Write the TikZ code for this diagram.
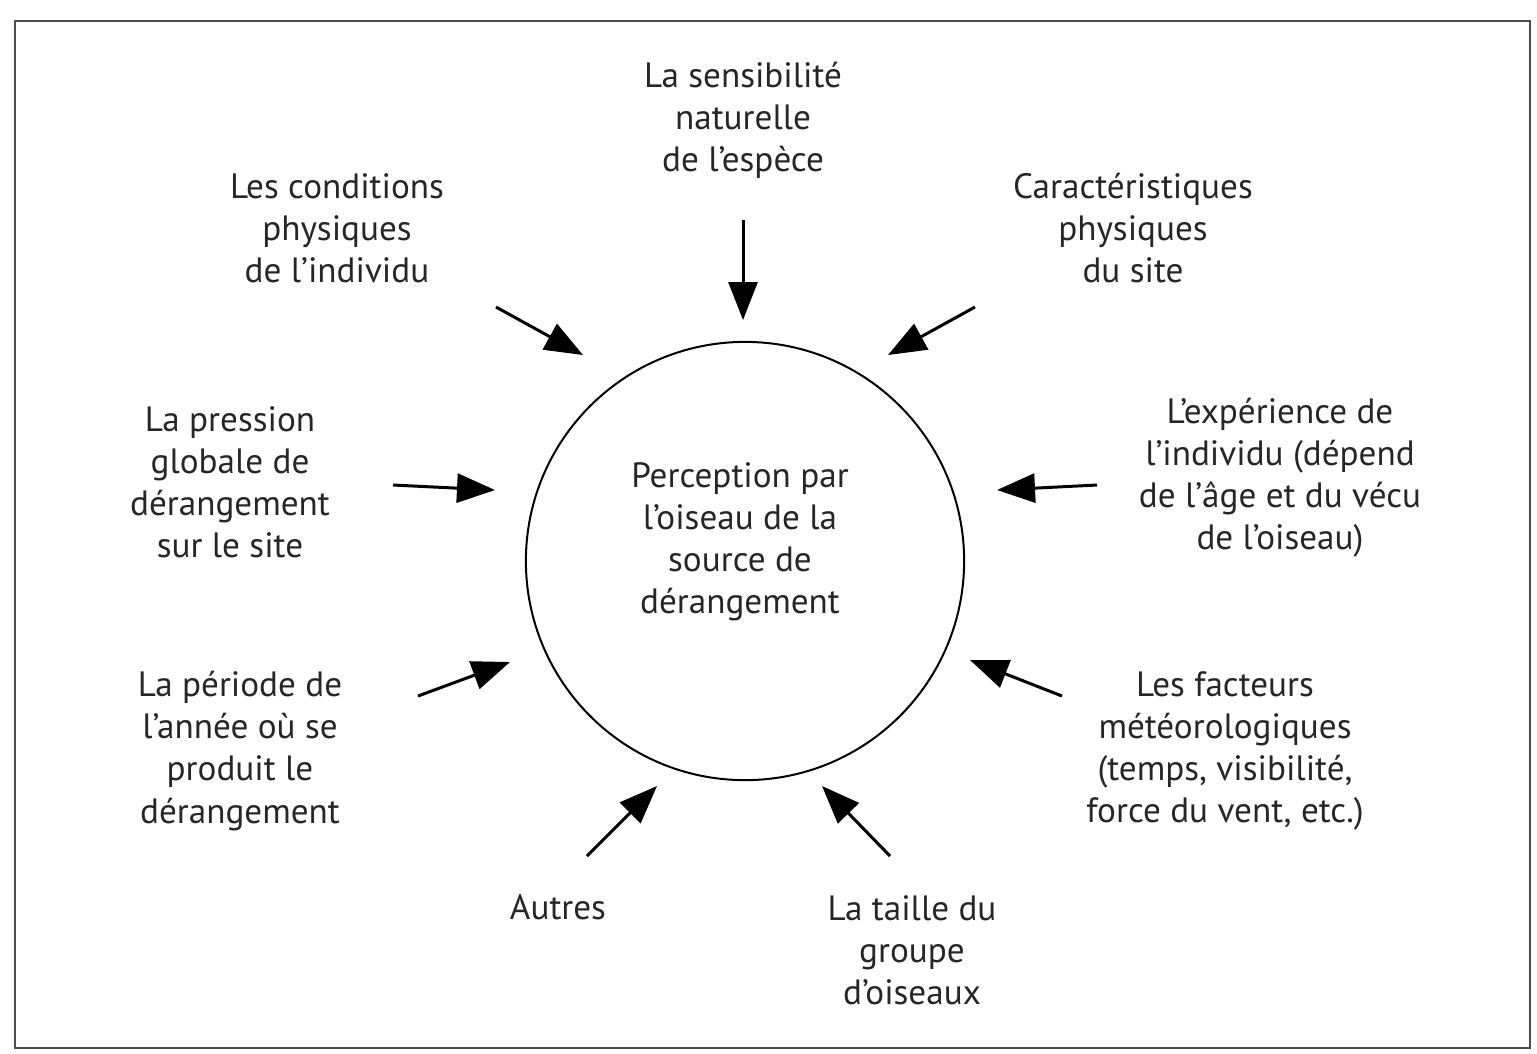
\documentclass[tikz,border=0pt]{standalone}
\usepackage{fontspec}
\setmainfont{PT Sans}
\usetikzlibrary{arrows.meta}

\begin{document}
\begin{tikzpicture}[x=0.01cm,y=-0.01cm,
    facteur/.style={align=center,inner sep=0pt,font=\fontsize{10}{11.95}\selectfont,text=black!85},
    fleche/.style={-{Triangle[length=0.38cm,width=0.29cm]},line width=0.03cm}]
    \useasboundingbox (0,0) rectangle (1537,1053);

    % Cadre
    \draw[line width=0.025cm,black!70] (15,21) rectangle (1530,1048);

    % Cercle central
    \node[draw,circle,line width=0.02cm,minimum size=4.38cm,inner sep=0pt] (cercle) at (745,561) {};
    \node[facteur] (perception) at (740,542) {Perception par\\l'oiseau de la\\source de\\dérangement};

    % Facteurs
    \node[facteur] (espece) at (743,120) {La sensibilité\\naturelle\\de l'espèce};
    \node[facteur] (individu) at (337,228) {Les conditions\\physiques\\de l'individu};
    \node[facteur] (site) at (1133,228) {Caractéristiques\\physiques\\du site};
    \node[facteur] (pression) at (230,482) {La pression\\globale de\\dérangement\\sur le site};
    \node[facteur] (experience) at (1280,478) {L'expérience de\\l'individu (dépend\\de l'âge et du vécu\\de l'oiseau)};
    \node[facteur] (periode) at (240,751) {La période de\\l'année où se\\produit le\\dérangement};
    \node[facteur] (meteo) at (1225,751) {Les facteurs\\météorologiques\\(temps, visibilité,\\force du vent, etc.)};
    \node[facteur] (autres) at (558,907) {Autres};
    \node[facteur] (taille) at (912,950) {La taille du\\groupe\\d'oiseaux};

    % Points de depart et d'arrivee des fleches
    \coordinate (d1) at (743,220);  \coordinate (f1) at (743,320);
    \coordinate (d2) at (496,307);  \coordinate (f2) at (583,355);
    \coordinate (d3) at (975,307);  \coordinate (f3) at (888,355);
    \coordinate (d4) at (393,485);  \coordinate (f4) at (495,490);
    \coordinate (d5) at (1097,485); \coordinate (f5) at (997,490);
    \coordinate (d6) at (418,696);  \coordinate (f6) at (510,662);
    \coordinate (d7) at (1062,696); \coordinate (f7) at (970,660);
    \coordinate (d8) at (587,856);  \coordinate (f8) at (657,786);
    \coordinate (d9) at (890,856);  \coordinate (f9) at (822,786);

    % Fleches
    \foreach \i in {1,...,9}
        \draw[fleche] (d\i) -- (f\i);
\end{tikzpicture}
\end{document}
